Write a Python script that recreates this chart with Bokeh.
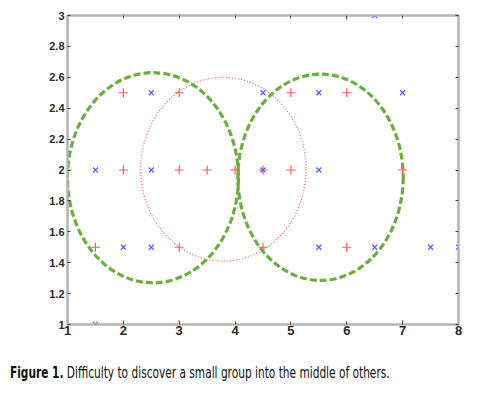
from bokeh.plotting import figure
from bokeh.models import LinearAxis, FixedTicker, Range1d, Div
from bokeh.layouts import column
from bokeh.embed import file_html
from bokeh.resources import INLINE

# ---- data ----
red_x = [6, 2, 3, 5, 6, 1, 2, 3, 3.5, 4, 4.5, 5, 7, 1.5, 3, 4.5, 6, 1, 2, 3, 7, 8]
red_y = [3, 2.5, 2.5, 2.5, 2.5, 2, 2, 2, 2, 2, 2, 2, 2, 1.5, 1.5, 1.5, 1.5, 1, 1, 1, 1, 1]
blue_x = [6.5, 2.5, 4.5, 5.5, 7, 1.5, 2.5, 4.5, 5.5, 2, 2.5, 5.5, 6.5, 7.5, 8, 1.5]
blue_y = [3, 2.5, 2.5, 2.5, 2.5, 2, 2, 2, 2, 1.5, 1.5, 1.5, 1.5, 1.5, 1.5, 1]

green_cx = [2.53, 5.53]
green_cy = [1.95, 1.953]
green_w = [3.06, 2.96]
green_h = [1.36, 1.335]

red_cx = [3.79]
red_cy = [2.005]
red_w = [2.96]
red_h = [1.19]

x_ticks = [1, 2, 3, 4, 5, 6, 7, 8]
y_ticks = [1, 1.2, 1.4, 1.6, 1.8, 2, 2.2, 2.4, 2.6, 2.8, 3]
y_labels = {1: "1", 1.2: "1.2", 1.4: "1.4", 1.6: "1.6", 1.8: "1.8", 2: "2",
            2.2: "2.2", 2.4: "2.4", 2.6: "2.6", 2.8: "2.8", 3: "3"}
caption_bold = "Figure 1."
caption_rest = "Difficulty to discover a small group into the middle of others."

FONT = "'DejaVu Sans Condensed', 'Liberation Sans Narrow', sans-serif"
AX_FONT = "Liberation Sans, Arial, sans-serif"
FRAME = "#b4b4b4"

p = figure(width=482, height=350, output_backend="svg", toolbar_location=None,
           x_range=Range1d(1, 8), y_range=Range1d(1, 3),
           min_border_left=67, min_border_right=24, min_border_top=15, min_border_bottom=26)
p.xgrid.visible = False
p.ygrid.visible = False
p.outline_line_color = FRAME
p.outline_line_width = 2
p.background_fill_color = "white"
p.border_fill_color = "white"

for ax in (p.xaxis[0], p.yaxis[0]):
    ax.axis_line_color = FRAME
    ax.axis_line_width = 2
    ax.major_tick_in = 3
    ax.major_tick_out = 0
    ax.major_tick_line_color = "#444444"
    ax.minor_tick_line_color = None
    ax.major_label_text_font = AX_FONT
    ax.major_label_text_color = "#2a2a2a"
    ax.major_label_text_font_style = "bold"

p.xaxis[0].ticker = FixedTicker(ticks=x_ticks)
p.yaxis[0].ticker = FixedTicker(ticks=y_ticks)
p.yaxis[0].major_label_overrides = y_labels
p.xaxis[0].major_label_text_font_size = "13px"
p.yaxis[0].major_label_text_font_size = "11px"
p.xaxis[0].major_label_standoff = 1
p.yaxis[0].major_label_standoff = 3

for loc, tks in (("above", x_ticks), ("right", y_ticks)):
    ax = LinearAxis(ticker=FixedTicker(ticks=tks))
    ax.axis_line_color = FRAME
    ax.axis_line_width = 2
    ax.major_tick_in = 3
    ax.major_tick_out = 0
    ax.major_tick_line_color = "#444444"
    ax.minor_tick_line_color = None
    ax.major_label_text_font_size = "11px"
    ax.major_label_overrides = {t: "" for t in tks}
    ax.major_label_standoff = 0
    p.add_layout(ax, loc)

p.ellipse(x=red_cx, y=red_cy, width=red_w, height=red_h, fill_color=None,
          line_color="#ff5555", line_width=1.2, line_dash="1 2")
p.ellipse(x=green_cx, y=green_cy, width=green_w, height=green_h, fill_color=None,
          line_color="#6aae3e", line_width=3.2, line_dash="7 3")

p.scatter(red_x, red_y, marker="cross", size=9, line_color="#ff5a5a", line_width=1.2)
p.scatter(blue_x, blue_y, marker="x", size=7, line_color="#5a5aff", line_width=1.2)

caption = Div(
    text=(f'<span style="display:inline-block; transform:scaleX(0.785); '
          f'transform-origin:0 0; white-space:nowrap;">'
          f'<b>{caption_bold}</b> {caption_rest}</span>'),
    width=482, height=43, margin=(0, 0, 0, 0),
    styles={"font-family": FONT, "font-size": "15px", "color": "#111111",
            "padding-left": "10px", "padding-top": "16px", "line-height": "15px",
            "white-space": "nowrap", "overflow": "hidden"},
)

layout = column(p, caption, spacing=0)
open("out.html", "w").write(file_html(layout, INLINE))
